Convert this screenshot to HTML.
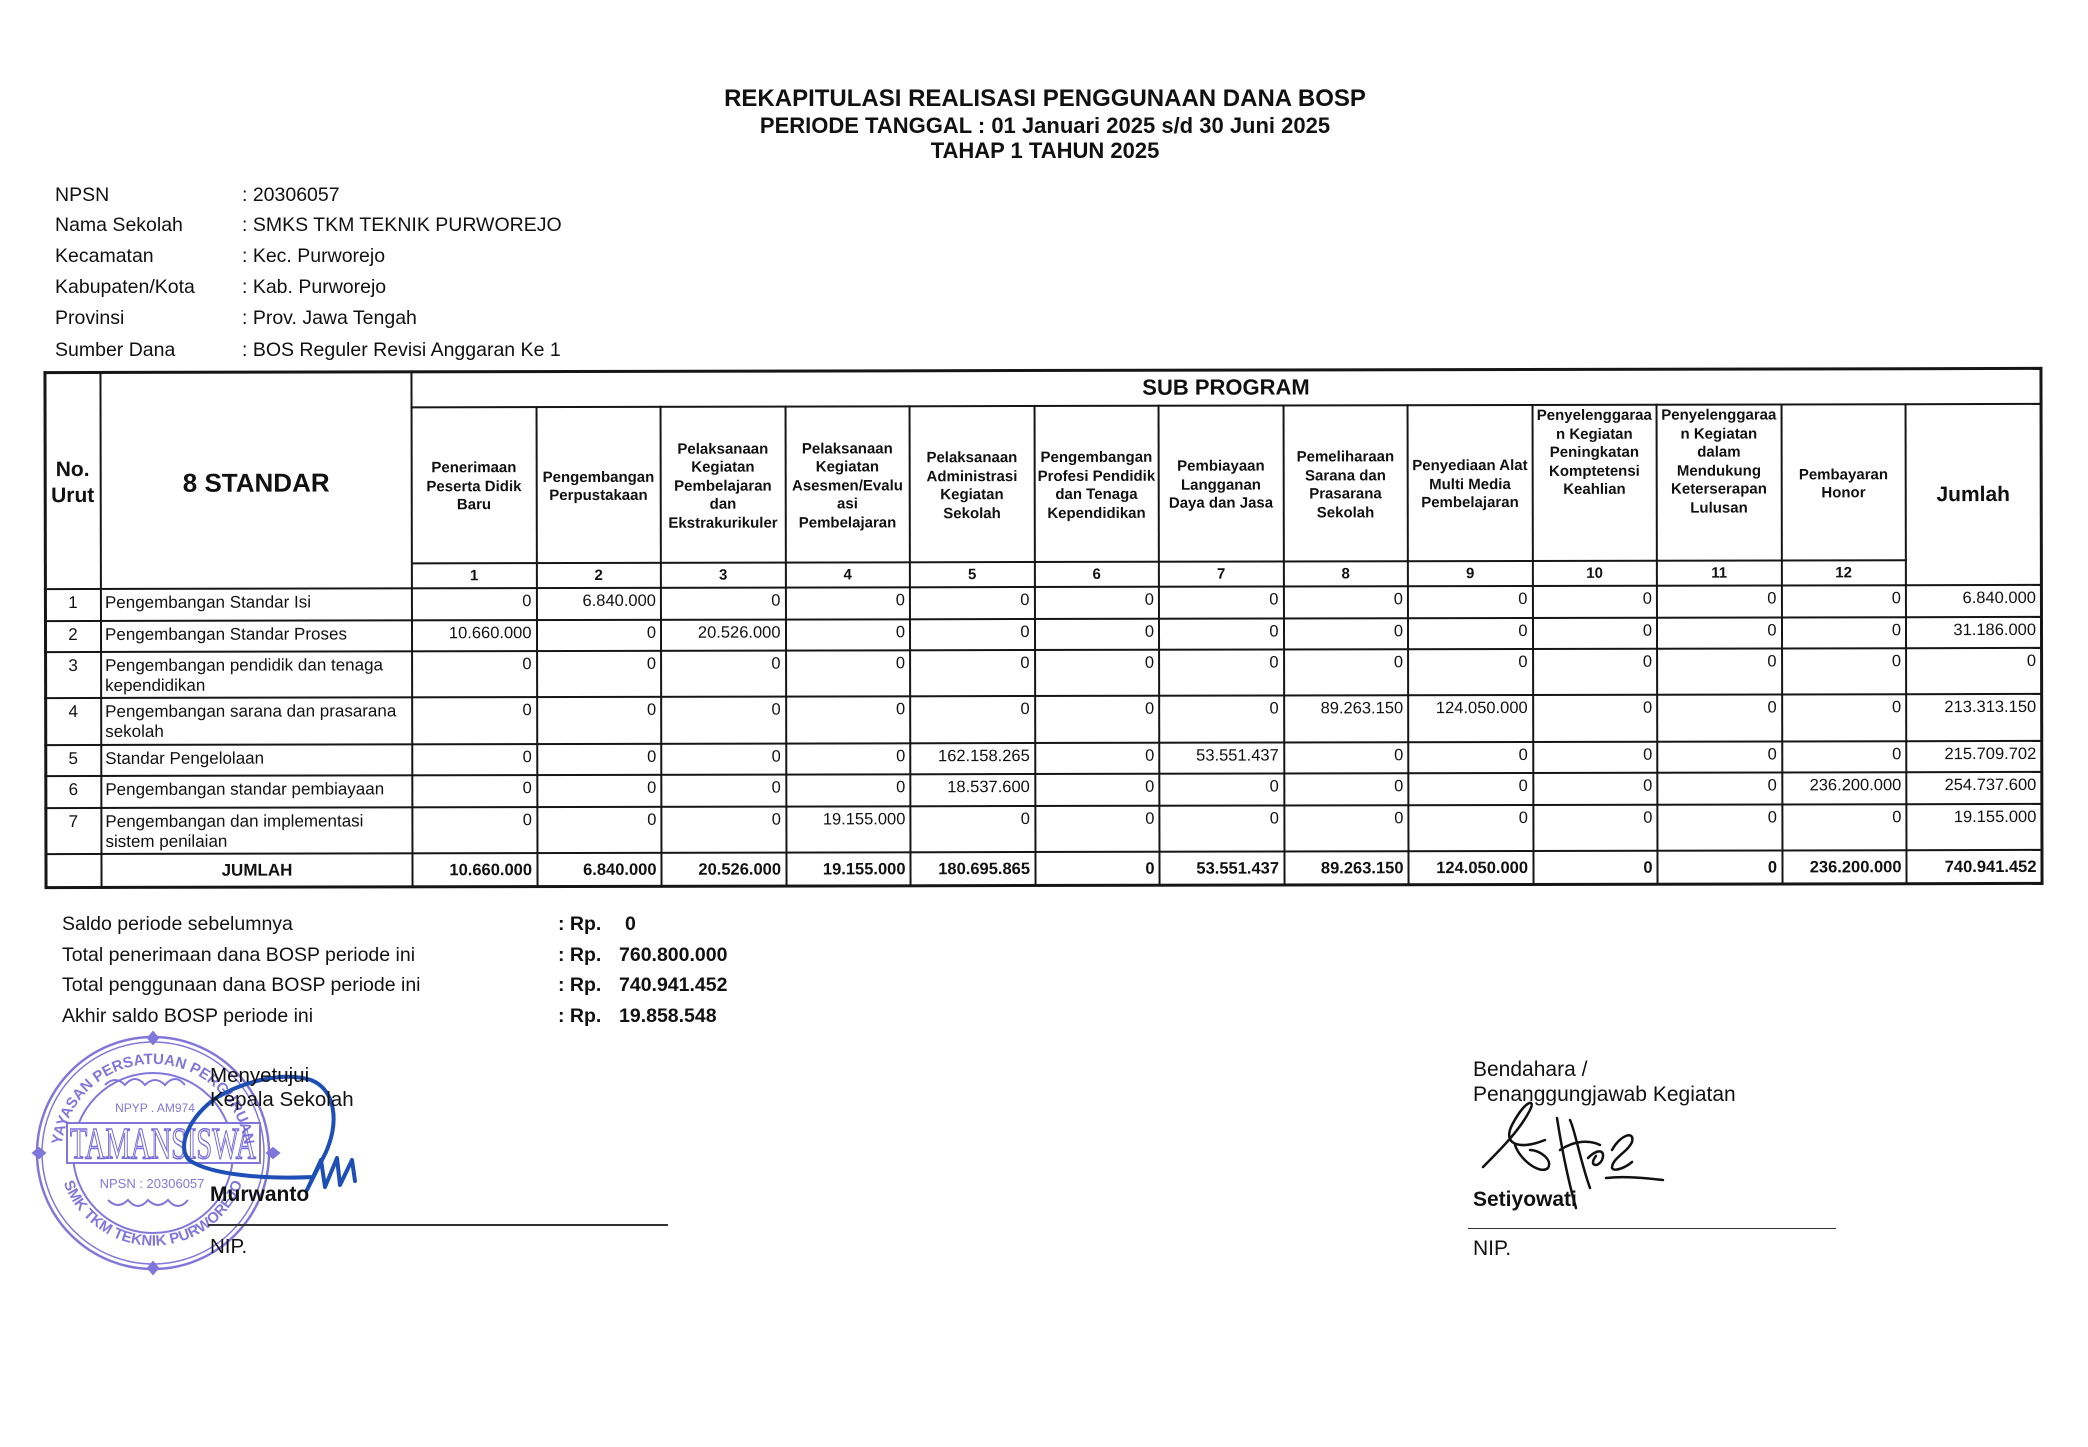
<!DOCTYPE html>
<html><head><meta charset="utf-8">
<style>
*{margin:0;padding:0;box-sizing:border-box}
body{width:2088px;height:1445px;background:#fff;position:relative;overflow:hidden;font-family:"Liberation Sans",Arial,sans-serif;color:#111}
.a{position:absolute;white-space:nowrap;line-height:1}
.b{font-weight:bold}
.h{position:absolute;background:#161616;height:2px}
.v{position:absolute;background:#161616;width:2px}
#tbl{position:absolute;left:0;top:0;width:2088px;height:1445px;transform:rotate(-0.12deg);transform-origin:1043px 628px}
.hc{position:absolute;top:406px;height:156px;width:124.5px;padding-top:4px;display:flex;align-items:center;justify-content:center;text-align:center;font-weight:bold;font-size:15px;line-height:18.5px;white-space:nowrap}
.hc.tp{align-items:flex-start;padding-top:2px}
.nc{position:absolute;top:562px;height:25px;width:124.5px;display:flex;align-items:center;justify-content:center;font-weight:bold;font-size:15px;line-height:1}
.g{position:absolute;left:412px;top:587px;display:grid;grid-template-columns:repeat(12,124.5px) 135px;grid-template-rows:32px 31px 46px 47px 31px 32px 46px 33px;font-size:16.5px;line-height:20px}
.g div{text-align:right;padding-right:5px;padding-top:2.5px;white-space:nowrap}
.g div.t{font-weight:bold;padding-top:0;display:flex;align-items:center;justify-content:flex-end}
.l{position:absolute;left:45px;top:587px;display:grid;grid-template-columns:56px 311px;grid-template-rows:32px 31px 46px 47px 31px 32px 46px 33px;font-size:17px;line-height:20px}
.l div{padding-top:3.5px;white-space:nowrap}
.l div.n{text-align:center}
.l div.s{padding-left:4px}
.l div.t{font-weight:bold;padding-top:0;display:flex;align-items:center;justify-content:center}
</style></head>
<body>

<!-- Title -->
<div class="a b" style="left:0;width:2090px;text-align:center;top:86.7px;font-size:24px">REKAPITULASI REALISASI PENGGUNAAN DANA BOSP</div>
<div class="a b" style="left:0;width:2090px;text-align:center;top:115.4px;font-size:22px">PERIODE TANGGAL : 01 Januari 2025 s/d 30 Juni 2025</div>
<div class="a b" style="left:0;width:2090px;text-align:center;top:140.4px;font-size:22px">TAHAP 1 TAHUN 2025</div>

<!-- Info -->
<div style="font-size:19.5px">
<div class="a" style="left:55px;top:185.5px">NPSN</div><div class="a" style="left:242px;top:185.5px">: 20306057</div>
<div class="a" style="left:55px;top:216px">Nama Sekolah</div><div class="a" style="left:242px;top:216px">: SMKS TKM TEKNIK PURWOREJO</div>
<div class="a" style="left:55px;top:247px">Kecamatan</div><div class="a" style="left:242px;top:247px">: Kec. Purworejo</div>
<div class="a" style="left:55px;top:278px">Kabupaten/Kota</div><div class="a" style="left:242px;top:278px">: Kab. Purworejo</div>
<div class="a" style="left:55px;top:309px">Provinsi</div><div class="a" style="left:242px;top:309px">: Prov. Jawa Tengah</div>
<div class="a" style="left:55px;top:340.5px">Sumber Dana</div><div class="a" style="left:242px;top:340.5px">: BOS Reguler Revisi Anggaran Ke 1</div>
</div>

<div id="tbl">
<!-- horizontal lines -->
<div class="h" style="left:44px;top:368.5px;width:1999px;height:3px"></div>
<div class="h" style="left:412px;top:405px;width:1630px"></div>
<div class="h" style="left:412px;top:561px;width:1495px"></div>
<div class="h" style="left:44px;top:586px;width:1998px"></div>
<div class="h" style="left:44px;top:618px;width:1998px"></div>
<div class="h" style="left:44px;top:649px;width:1998px"></div>
<div class="h" style="left:44px;top:695px;width:1998px"></div>
<div class="h" style="left:44px;top:742px;width:1998px"></div>
<div class="h" style="left:44px;top:773px;width:1998px"></div>
<div class="h" style="left:44px;top:805px;width:1998px"></div>
<div class="h" style="left:44px;top:851px;width:1998px"></div>
<div class="h" style="left:44px;top:883.5px;width:1999px;height:3px"></div>
<!-- vertical lines -->
<div class="v" style="left:43.5px;top:369px;height:517px;width:3px"></div>
<div class="v" style="left:100px;top:369px;height:517px"></div>
<div class="v" style="left:411px;top:369px;height:517px"></div>
<div class="v" style="left:535.5px;top:405px;height:481px"></div>
<div class="v" style="left:660px;top:405px;height:481px"></div>
<div class="v" style="left:784.5px;top:405px;height:481px"></div>
<div class="v" style="left:909px;top:405px;height:481px"></div>
<div class="v" style="left:1033.5px;top:405px;height:481px"></div>
<div class="v" style="left:1158px;top:405px;height:481px"></div>
<div class="v" style="left:1282.5px;top:405px;height:481px"></div>
<div class="v" style="left:1407px;top:405px;height:481px"></div>
<div class="v" style="left:1531.5px;top:405px;height:481px"></div>
<div class="v" style="left:1656px;top:405px;height:481px"></div>
<div class="v" style="left:1780.5px;top:405px;height:481px"></div>
<div class="v" style="left:1905px;top:405px;height:481px"></div>
<div class="v" style="left:2039.5px;top:369px;height:517px;width:3px"></div>

<!-- header -->
<div class="a b" style="left:45px;width:56px;top:370px;height:217px;display:flex;align-items:center;justify-content:center;text-align:center;font-size:21px;line-height:26px;padding-top:4px">No.<br>Urut</div>
<div class="a b" style="left:101px;width:311px;top:370px;height:217px;display:flex;align-items:center;justify-content:center;font-size:26px;padding-top:4px">8 STANDAR</div>
<div class="a b" style="left:412px;width:1629px;top:370px;height:36px;display:flex;align-items:center;justify-content:center;font-size:22px">SUB PROGRAM</div>

<div class="hc" style="left:412px">Penerimaan<br>Peserta Didik<br>Baru</div>
<div class="hc" style="left:536.5px">Pengembangan<br>Perpustakaan</div>
<div class="hc" style="left:661px">Pelaksanaan<br>Kegiatan<br>Pembelajaran<br>dan<br>Ekstrakurikuler</div>
<div class="hc" style="left:785.5px">Pelaksanaan<br>Kegiatan<br>Asesmen/Evalu<br>asi<br>Pembelajaran</div>
<div class="hc" style="left:910px">Pelaksanaan<br>Administrasi<br>Kegiatan<br>Sekolah</div>
<div class="hc" style="left:1034.5px">Pengembangan<br>Profesi Pendidik<br>dan Tenaga<br>Kependidikan</div>
<div class="hc" style="left:1159px">Pembiayaan<br>Langganan<br>Daya dan Jasa</div>
<div class="hc" style="left:1283.5px">Pemeliharaan<br>Sarana dan<br>Prasarana<br>Sekolah</div>
<div class="hc" style="left:1408px">Penyediaan Alat<br>Multi Media<br>Pembelajaran</div>
<div class="hc tp" style="left:1532.5px">Penyelenggaraa<br>n Kegiatan<br>Peningkatan<br>Komptetensi<br>Keahlian</div>
<div class="hc tp" style="left:1657px">Penyelenggaraa<br>n Kegiatan<br>dalam<br>Mendukung<br>Keterserapan<br>Lulusan</div>
<div class="hc" style="left:1781.5px">Pembayaran<br>Honor</div>
<div class="a b" style="left:1906px;width:135px;top:406px;height:181px;display:flex;align-items:center;justify-content:center;font-size:21px">Jumlah</div>

<div class="nc" style="left:412px">1</div>
<div class="nc" style="left:536.5px">2</div>
<div class="nc" style="left:661px">3</div>
<div class="nc" style="left:785.5px">4</div>
<div class="nc" style="left:910px">5</div>
<div class="nc" style="left:1034.5px">6</div>
<div class="nc" style="left:1159px">7</div>
<div class="nc" style="left:1283.5px">8</div>
<div class="nc" style="left:1408px">9</div>
<div class="nc" style="left:1532.5px">10</div>
<div class="nc" style="left:1657px">11</div>
<div class="nc" style="left:1781.5px">12</div>

<!-- left body -->
<div class="l">
<div class="n">1</div><div class="s">Pengembangan Standar Isi</div>
<div class="n">2</div><div class="s">Pengembangan Standar Proses</div>
<div class="n">3</div><div class="s">Pengembangan pendidik dan tenaga<br>kependidikan</div>
<div class="n">4</div><div class="s">Pengembangan sarana dan prasarana<br>sekolah</div>
<div class="n">5</div><div class="s">Standar Pengelolaan</div>
<div class="n">6</div><div class="s">Pengembangan standar pembiayaan</div>
<div class="n">7</div><div class="s">Pengembangan dan implementasi<br>sistem penilaian</div>
<div></div><div class="t">JUMLAH</div>
</div>

<!-- data body -->
<div class="g">
<div>0</div><div>6.840.000</div><div>0</div><div>0</div><div>0</div><div>0</div><div>0</div><div>0</div><div>0</div><div>0</div><div>0</div><div>0</div><div>6.840.000</div>
<div>10.660.000</div><div>0</div><div>20.526.000</div><div>0</div><div>0</div><div>0</div><div>0</div><div>0</div><div>0</div><div>0</div><div>0</div><div>0</div><div>31.186.000</div>
<div>0</div><div>0</div><div>0</div><div>0</div><div>0</div><div>0</div><div>0</div><div>0</div><div>0</div><div>0</div><div>0</div><div>0</div><div>0</div>
<div>0</div><div>0</div><div>0</div><div>0</div><div>0</div><div>0</div><div>0</div><div>89.263.150</div><div>124.050.000</div><div>0</div><div>0</div><div>0</div><div>213.313.150</div>
<div>0</div><div>0</div><div>0</div><div>0</div><div>162.158.265</div><div>0</div><div>53.551.437</div><div>0</div><div>0</div><div>0</div><div>0</div><div>0</div><div>215.709.702</div>
<div>0</div><div>0</div><div>0</div><div>0</div><div>18.537.600</div><div>0</div><div>0</div><div>0</div><div>0</div><div>0</div><div>0</div><div>236.200.000</div><div>254.737.600</div>
<div>0</div><div>0</div><div>0</div><div>19.155.000</div><div>0</div><div>0</div><div>0</div><div>0</div><div>0</div><div>0</div><div>0</div><div>0</div><div>19.155.000</div>
<div class="t">10.660.000</div><div class="t">6.840.000</div><div class="t">20.526.000</div><div class="t">19.155.000</div><div class="t">180.695.865</div><div class="t">0</div><div class="t">53.551.437</div><div class="t">89.263.150</div><div class="t">124.050.000</div><div class="t">0</div><div class="t">0</div><div class="t">236.200.000</div><div class="t">740.941.452</div>
</div>
</div>

<!-- Summary -->
<div style="font-size:19.5px">
<div class="a" style="left:62px;top:914.5px">Saldo periode sebelumnya</div>
<div class="a" style="left:62px;top:945.5px">Total penerimaan dana BOSP periode ini</div>
<div class="a" style="left:62px;top:975.5px">Total penggunaan dana BOSP periode ini</div>
<div class="a" style="left:62px;top:1006.5px">Akhir saldo BOSP periode ini</div>
<div class="a b" style="left:558px;top:914.5px">: Rp.</div>
<div class="a b" style="left:558px;top:945.5px">: Rp.</div>
<div class="a b" style="left:558px;top:975.5px">: Rp.</div>
<div class="a b" style="left:558px;top:1006.5px">: Rp.</div>
<div class="a b" style="left:625px;top:914.5px">0</div>
<div class="a b" style="left:619px;top:945.5px">760.800.000</div>
<div class="a b" style="left:619px;top:975.5px">740.941.452</div>
<div class="a b" style="left:619px;top:1006.5px">19.858.548</div>
</div>

<!-- Stamp -->
<svg class="a" style="left:0;top:0" width="2088" height="1445" viewBox="0 0 2088 1445">
<defs>
<path id="arcTop" d="M 63,1175 A 92,92 0 1 1 243,1175"/>
<path id="arcBot" d="M 60,1170 A 95,95 0 0 0 246,1170"/>
</defs>
<g fill="none" stroke="#6c60d4" opacity="0.85">
<circle cx="153" cy="1153" r="116" stroke-width="2.5"/>
<circle cx="153" cy="1153" r="111" stroke-width="1.5"/>
<circle cx="153" cy="1153" r="80" stroke-width="2"/>
<rect x="67" y="1123" width="193" height="40" stroke-width="2" fill="#fff"/>
<path d="M105,1085 q10,-10 20,0 q10,-12 20,0 q10,-10 20,0 q10,-12 20,0" stroke-width="2"/>
<path d="M108,1200 q10,10 20,0 q10,12 20,0 q10,10 20,0 q10,12 20,0" stroke-width="2"/>
<path d="M153,1032 l5,6 -5,6 -5,-6z M153,1262 l5,6 -5,6 -5,-6z M33,1153 l6,5 6,-5 -6,-5z M267,1153 l6,5 6,-5 -6,-5z" stroke-width="2" fill="#6c60d4"/>
</g>
<g fill="#6c60d4" opacity="0.85" font-family="Liberation Sans, sans-serif">
<text font-size="15" font-weight="bold"><textPath href="#arcTop" startOffset="50%" text-anchor="middle">YAYASAN PERSATUAN PERGURUAN</textPath></text>
<text font-size="15" font-weight="bold"><textPath href="#arcBot" startOffset="50%" text-anchor="middle">SMK TKM TEKNIK PURWOREJO</textPath></text>
<text x="155" y="1112" font-size="12" text-anchor="middle">NPYP . AM974</text>
<text x="152" y="1188" font-size="13" text-anchor="middle">NPSN : 20306057</text>
</g>
<text x="163" y="1158" font-family="Liberation Serif, serif" font-size="44" text-anchor="middle" textLength="186" lengthAdjust="spacingAndGlyphs" fill="none" stroke="#6c60d4" stroke-width="1.5" opacity="0.9">TAMANSISWA</text>
<!-- blue signature -->
<path d="M313,1177 C270,1179 212,1176 189,1160 C176,1146 190,1116 216,1098 C242,1082 282,1071 311,1080 C336,1090 339,1122 326,1152 L307,1190 L321,1160 L325,1187 L337,1158 L340,1185 L352,1160 L355,1181" fill="none" stroke="#1d4fb5" stroke-width="4" stroke-linecap="round" stroke-linejoin="round"/>
<!-- right signature -->
<g fill="none" stroke="#111" stroke-width="2.5" stroke-linecap="round" stroke-linejoin="round">
<path d="M1483,1167 C1500,1150 1520,1130 1530,1110 C1536,1098 1525,1100 1512,1125 C1502,1145 1520,1150 1545,1140"/>
<path d="M1515,1145 C1520,1160 1540,1175 1548,1168 C1553,1160 1540,1150 1530,1150"/>
<path d="M1557,1118 C1562,1150 1568,1180 1576,1208"/>
<path d="M1570,1120 C1575,1130 1580,1160 1590,1188 M1560,1150 C1575,1140 1590,1140 1600,1145"/>
<path d="M1588,1158 C1598,1148 1606,1150 1602,1160 C1598,1168 1588,1166 1596,1156"/>
<path d="M1612,1150 C1620,1135 1635,1130 1632,1142 C1628,1152 1612,1158 1612,1168 C1614,1172 1625,1168 1632,1162"/>
<path d="M1606,1178 C1625,1176 1645,1178 1663,1180"/>
</g>
</svg>

<!-- Signatures -->
<div class="a" style="left:210px;top:1066px;font-size:20.5px">Menyetujui</div>
<div class="a" style="left:210px;top:1090px;font-size:20.5px">Kepala Sekolah</div>
<div class="a b" style="left:210px;top:1184px;font-size:21px">Murwanto</div>
<div class="h" style="left:208px;top:1224px;width:460px;height:1.5px;background:#333"></div>
<div class="a" style="left:210px;top:1237px;font-size:20.5px">NIP.</div>

<div class="a" style="left:1473px;top:1059.2px;font-size:21px">Bendahara /</div>
<div class="a" style="left:1473px;top:1084.2px;font-size:21px">Penanggungjawab Kegiatan</div>
<div class="a b" style="left:1473px;top:1189.2px;font-size:21px">Setiyowati</div>
<div class="h" style="left:1468px;top:1227.5px;width:368px;height:1.5px;background:#333"></div>
<div class="a" style="left:1473px;top:1238.2px;font-size:21px">NIP.</div>

</body></html>
